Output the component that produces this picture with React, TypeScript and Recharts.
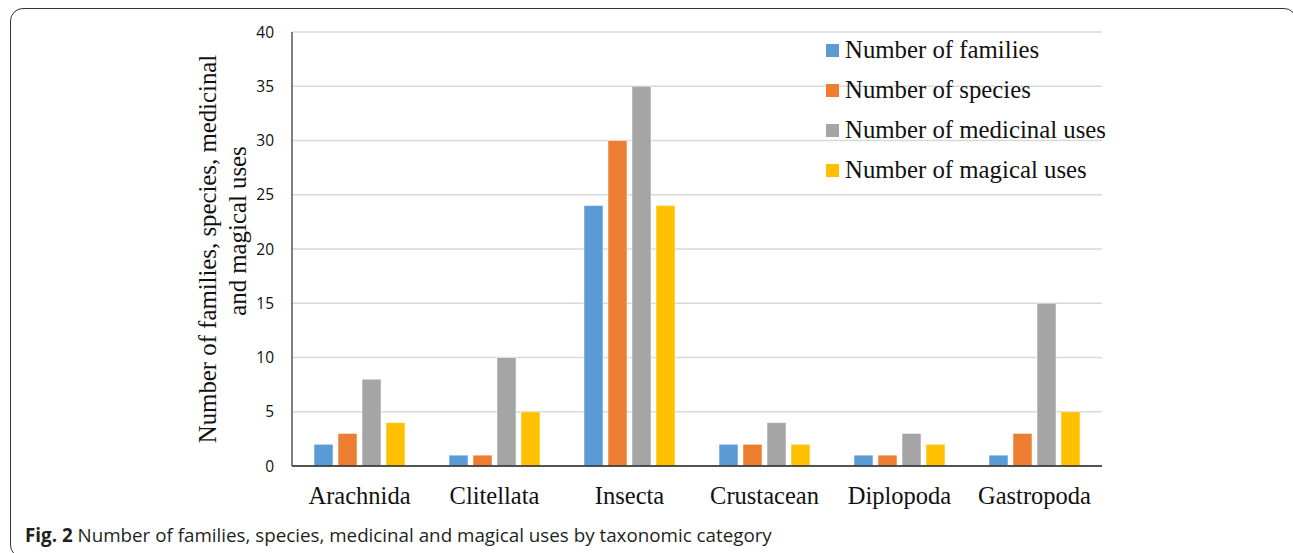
import React from 'react';
import { BarChart, Bar, XAxis, YAxis, CartesianGrid } from 'recharts';

const categories = ['Arachnida', 'Clitellata', 'Insecta', 'Crustacean', 'Diplopoda', 'Gastropoda'];
const families = [2, 1, 24, 2, 1, 1];
const species = [3, 1, 30, 2, 1, 3];
const medicinalUses = [8, 10, 35, 4, 3, 15];
const magicalUses = [4, 5, 24, 2, 2, 5];
const yTicks = [0, 5, 10, 15, 20, 25, 30, 35, 40];

const seriesList = [
  { key: 'families', name: 'Number of families', color: '#5B9BD5' },
  { key: 'species', name: 'Number of species', color: '#ED7D31' },
  { key: 'medicinal', name: 'Number of medicinal uses', color: '#A5A5A5' },
  { key: 'magical', name: 'Number of magical uses', color: '#FFC000' },
];

const chartData = categories.map((name, i) => ({
  name,
  families: families[i],
  species: species[i],
  medicinal: medicinalUses[i],
  magical: magicalUses[i],
}));

const serif = '"Liberation Serif", "Times New Roman", serif';
const sans = '"Open Sans", "Noto Sans", sans-serif';

// legend sits inside the plot area, over the gridlines
function LegendBox() {
  return (
    <div style={{ position: 'absolute', left: 826, top: 30, fontFamily: serif, fontSize: 24.8, color: '#111' }}>
      {seriesList.map((s) => (
        <div key={s.key} style={{ display: 'flex', alignItems: 'center', height: 40, whiteSpace: 'nowrap' }}>
          <span style={{ width: 13, height: 13, background: s.color, marginRight: 6, display: 'inline-block' }} />
          <span>{s.name}</span>
        </div>
      ))}
    </div>
  );
}

function YLabel() {
  return (
    <g fontFamily={serif} fontSize={24.8} fill="#111" textAnchor="middle">
      <text x={216} y={249} transform="rotate(-90 216 249)">
        Number of families, species, medicinal
      </text>
      <text x={246} y={231} transform="rotate(-90 246 231)">
        and magical uses
      </text>
    </g>
  );
}

export default function App() {
  return (
    <div style={{ position: 'fixed', left: 0, top: 0, width: 1293, height: 553, background: '#fff', overflow: 'hidden' }}>
      <div
        style={{
          position: 'absolute',
          left: 10,
          top: 8,
          width: 1287,
          height: 550,
          border: '1.5px solid #333',
          borderRadius: 13,
          boxSizing: 'border-box',
        }}
      />
      <div style={{ position: 'absolute', left: 0, top: 0 }}>
        <BarChart
          width={1293}
          height={553}
          data={chartData}
          margin={{ top: 32, right: 191, left: 232, bottom: 57 }}
          barSize={19}
          barGap={5}
        >
          <CartesianGrid vertical={false} stroke="#d9d9d9" strokeWidth={1.5} />
          <XAxis
            dataKey="name"
            height={30}
            tickLine={false}
            tickSize={0}
            tickMargin={21}
            axisLine={{ stroke: '#222', strokeWidth: 1.5 }}
            tick={{ fontFamily: serif, fontSize: 24.5, fill: '#111' }}
            interval={0}
          />
          <YAxis
            width={60}
            domain={[0, 40]}
            ticks={yTicks}
            tickLine={false}
            tickSize={0}
            tickMargin={18}
            axisLine={{ stroke: '#555', strokeWidth: 1.5 }}
            tick={{ fontFamily: sans, fontSize: 15.5, fill: '#111' }}
            label={{ content: () => <YLabel /> }}
          />
          {seriesList.map((s) => (
            <Bar
              key={s.key}
              dataKey={s.key}
              name={s.name}
              fill={s.color}
              stroke="#ffffff"
              strokeOpacity={0.5}
              strokeWidth={1}
              isAnimationActive={false}
            />
          ))}
        </BarChart>
      </div>
      <LegendBox />
      <div
        style={{
          position: 'absolute',
          left: 25,
          top: 522,
          fontFamily: sans,
          fontSize: 18.8,
          color: '#231f20',
          whiteSpace: 'nowrap',
        }}
      >
        <b>Fig. 2</b> Number of families, species, medicinal and magical uses by taxonomic category
      </div>
    </div>
  );
}
